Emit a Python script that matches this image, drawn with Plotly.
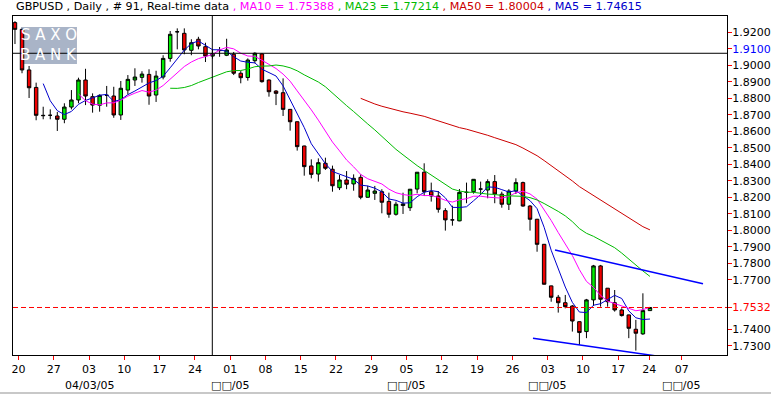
import plotly.graph_objects as go
import pandas as pd

# ---------------- data (GBPUSD daily, 91 bars) ----------------
OPEN = [1.9259, 1.9218, 1.8972, 1.8866, 1.8697, 1.8697, 1.8693, 1.8673, 1.8747, 1.8790,
        1.8911, 1.8810, 1.8758, 1.8818, 1.8814, 1.8699, 1.8850, 1.8911, 1.8927, 1.8945,
        1.8820, 1.8929, 1.9042, 1.9204, 1.9194, 1.9091, 1.9158, 1.9113, 1.9056, 1.9089,
        1.9061, 1.9067, 1.8952, 1.8926, 1.9028, 1.9069, 1.8911, 1.8844, 1.8834, 1.8733,
        1.8658, 1.8511, 1.8390, 1.8341, 1.8406, 1.8370, 1.8258, 1.8305, 1.8281, 1.8321,
        1.8200, 1.8224, 1.8234, 1.8175, 1.8097, 1.8150, 1.8137, 1.8250, 1.8352, 1.8234,
        1.8208, 1.8119, 1.8063, 1.8057, 1.8230, 1.8234, 1.8250, 1.8244, 1.8295, 1.8219,
        1.8158, 1.8238, 1.8289, 1.8147, 1.8067, 1.7915, 1.7663, 1.7594, 1.7561, 1.7541,
        1.7446, 1.7386, 1.7578, 1.7784, 1.7649, 1.7561, 1.7517, 1.7487, 1.7400, 1.7372,
        1.7513]
HIGH = [1.9268, 1.9222, 1.8996, 1.8895, 1.8749, 1.8733, 1.8717, 1.8770, 1.8850, 1.8925,
        1.8979, 1.8830, 1.8824, 1.8875, 1.8870, 1.8905, 1.8941, 1.8982, 1.8964, 1.8976,
        1.8967, 1.9061, 1.9208, 1.9224, 1.9224, 1.9158, 1.9173, 1.9137, 1.9095, 1.9111,
        1.9161, 1.9081, 1.8965, 1.9042, 1.9079, 1.9073, 1.8915, 1.8850, 1.8921, 1.8735,
        1.8660, 1.8513, 1.8430, 1.8436, 1.8440, 1.8392, 1.8335, 1.8359, 1.8339, 1.8339,
        1.8270, 1.8269, 1.8249, 1.8228, 1.8174, 1.8228, 1.8250, 1.8353, 1.8406, 1.8289,
        1.8238, 1.8134, 1.8149, 1.8250, 1.8289, 1.8310, 1.8295, 1.8309, 1.8335, 1.8234,
        1.8249, 1.8315, 1.8295, 1.8153, 1.8069, 1.7917, 1.7665, 1.7608, 1.7608, 1.7547,
        1.7448, 1.7584, 1.7790, 1.7790, 1.7650, 1.7638, 1.7527, 1.7489, 1.7457, 1.7618,
        1.7534]
LOW = [1.9129, 1.8952, 1.8802, 1.8667, 1.8673, 1.8673, 1.8602, 1.8649, 1.8733, 1.8770,
       1.8759, 1.8713, 1.8719, 1.8749, 1.8682, 1.8669, 1.8824, 1.8875, 1.8895, 1.8761,
       1.8778, 1.8915, 1.9022, 1.9097, 1.9067, 1.9061, 1.9097, 1.9020, 1.9040, 1.9052,
       1.9056, 1.8941, 1.8891, 1.8907, 1.9012, 1.8895, 1.8810, 1.8759, 1.8693, 1.8604,
       1.8483, 1.8331, 1.8315, 1.8295, 1.8366, 1.8234, 1.8244, 1.8249, 1.8240, 1.8188,
       1.8198, 1.8184, 1.8103, 1.8076, 1.8089, 1.8099, 1.8117, 1.8224, 1.8208, 1.8174,
       1.8107, 1.7998, 1.8028, 1.8055, 1.8164, 1.8222, 1.8214, 1.8194, 1.8164, 1.8137,
       1.8123, 1.8220, 1.8143, 1.7998, 1.7870, 1.7671, 1.7567, 1.7501, 1.7527, 1.7386,
       1.7305, 1.7346, 1.7541, 1.7537, 1.7537, 1.7507, 1.7477, 1.7346, 1.7271, 1.7366,
       1.7511]
CLOSE = [1.9218, 1.8972, 1.8864, 1.8697, 1.8695, 1.8697, 1.8673, 1.8747, 1.8790, 1.8911,
         1.8814, 1.8759, 1.8818, 1.8818, 1.8699, 1.8861, 1.8915, 1.8929, 1.8947, 1.8814,
         1.8935, 1.9042, 1.9188, 1.9203, 1.9093, 1.9137, 1.9117, 1.9056, 1.9070, 1.9090,
         1.9093, 1.8952, 1.8925, 1.9032, 1.9073, 1.8901, 1.8840, 1.8830, 1.8733, 1.8658,
         1.8507, 1.8386, 1.8339, 1.8410, 1.8376, 1.8270, 1.8305, 1.8279, 1.8315, 1.8200,
         1.8244, 1.8238, 1.8170, 1.8097, 1.8158, 1.8160, 1.8249, 1.8352, 1.8234, 1.8208,
         1.8127, 1.8063, 1.8063, 1.8230, 1.8230, 1.8309, 1.8250, 1.8295, 1.8220, 1.8158,
         1.8238, 1.8289, 1.8147, 1.8067, 1.7915, 1.7673, 1.7594, 1.7561, 1.7537, 1.7450,
         1.7380, 1.7578, 1.7784, 1.7582, 1.7567, 1.7517, 1.7483, 1.7406, 1.7376, 1.7513,
         1.7532]
BAR = list(range(len(CLOSE)))

MA_PERIODS = [5, 10, 23, 50]
MA_COLORS = {5: "#0000CC", 10: "#FF00FF", 23: "#00BB00", 50: "#CC0000"}
TITLE_MA = [("MA10", "1.75388", "#FF00FF"), ("MA23", "1.77214", "#00BB00"),
            ("MA50", "1.80004", "#CC0000"), ("MA5", "1.74615", "#0000CC")]

X_TICK_POS = [0.5, 5.5, 10.5, 15.5, 20.5, 25.5, 30.5, 35.5, 40.5, 45.5, 50.5,
              55.5, 60.5, 65.5, 70.5, 75.5, 80.5, 85.5, 89.9, 94.5]
X_TICK_DAY = ["20", "27", "03", "10", "17", "24", "01", "08", "15", "22", "29",
              "05", "12", "19", "26", "03", "10", "17", "24", "07"]
X_TICK_MONTH = {2: "04/03/05", 6: "□□/05", 11: "□□/05", 15: "□□/05", 19: "□□/05"}

Y_TICKS = [1.73, 1.74, 1.77, 1.78, 1.79, 1.80, 1.81, 1.82, 1.83, 1.84, 1.85,
           1.86, 1.87, 1.88, 1.89, 1.90, 1.91, 1.92]
LAST_PRICE = 1.7532
CROSS_PRICE = 1.9073
CROSS_BAR = 27.97
BLUE_TICK = 1.91

TREND_UP_X = [76.54, 97.52]
TREND_UP_Y = [1.7881, 1.7676]
TREND_LO_X = [73.42, 94.82]
TREND_LO_Y = [1.7346, 1.7214]

X_RANGE = [-0.28, 100.92]
Y_RANGE = [1.7244, 1.9299]

FONT = "DejaVu Sans"

# ---------------- figure ----------------
fig = go.Figure()

fig.add_trace(go.Candlestick(
    x=BAR, open=OPEN, high=HIGH, low=LOW, close=CLOSE,
    increasing=dict(fillcolor="#00EE00", line=dict(color="black", width=1)),
    decreasing=dict(fillcolor="#EE0000", line=dict(color="black", width=1)),
    whiskerwidth=0, showlegend=False, hoverinfo="skip",
))

close_s = pd.Series(CLOSE)
for p in MA_PERIODS:
    ma = close_s.rolling(p).mean()
    fig.add_trace(go.Scatter(x=BAR, y=ma, mode="lines",
                             line=dict(color=MA_COLORS[p], width=1),
                             showlegend=False, hoverinfo="skip"))

# tick labels
y_vals = Y_TICKS + [LAST_PRICE]
y_text = []
for v in Y_TICKS:
    t = f"{v:.4f}"
    if abs(v - BLUE_TICK) < 1e-9:
        t = f'<span style="color:#0000FF">{t}</span>'
    y_text.append(t)
y_text.append(f'<span style="color:#FF0000">{LAST_PRICE:.4f}</span>')

shapes = [
    # logo box
    dict(type="rect", xref="paper", yref="paper", x0=0.0112, x1=0.0896, y0=0.8584, y1=0.9676,
         fillcolor="#A9B4C7", line=dict(width=0), layer="below"),
    # last price dashed
    dict(type="line", xref="paper", yref="y", x0=0, x1=1, y0=LAST_PRICE, y1=LAST_PRICE,
         line=dict(color="#FF0000", width=1, dash="5px,3px")),
    # crosshair
    dict(type="line", xref="x", yref="paper", x0=CROSS_BAR, x1=CROSS_BAR, y0=0, y1=1,
         line=dict(color="black", width=1)),
    dict(type="line", xref="paper", yref="y", x0=0, x1=1, y0=CROSS_PRICE, y1=CROSS_PRICE,
         line=dict(color="black", width=1)),
    # trend lines
    dict(type="line", xref="x", yref="y", x0=TREND_UP_X[0], x1=TREND_UP_X[1],
         y0=TREND_UP_Y[0], y1=TREND_UP_Y[1], line=dict(color="#0000FF", width=1.5)),
    dict(type="line", xref="x", yref="y", x0=TREND_LO_X[0], x1=TREND_LO_X[1],
         y0=TREND_LO_Y[0], y1=TREND_LO_Y[1], line=dict(color="#0000FF", width=1.5)),
    # bottom gray rule of the window
    dict(type="line", xref="paper", yref="paper", x0=-0.02, x1=1.07, y0=-0.112, y1=-0.112,
         line=dict(color="#C8C8C8", width=2)),
]

title = "GBPUSD , Daily , # 91, Real-time data"
for name, val, col in TITLE_MA:
    title += f'<span style="color:{col}"> , {name} = {val}</span>'

annotations = [
    dict(xref="paper", yref="paper", x=0.0014, y=1.028, xanchor="left", yanchor="middle",
         text=title, showarrow=False, font=dict(family=FONT, size=11.2, color="black")),
    dict(xref="paper", yref="paper", x=0.0504, y=0.9425, xanchor="center", yanchor="middle",
         text="S A X O", showarrow=False, font=dict(family=FONT, size=15, color="white")),
    dict(xref="paper", yref="paper", x=0.0504, y=0.8835, xanchor="center", yanchor="middle",
         text="B A N K", showarrow=False, font=dict(family=FONT, size=15, color="white")),
]
for i, lab in X_TICK_MONTH.items():
    annotations.append(dict(xref="x", yref="paper", x=X_TICK_POS[i], y=-0.0885,
                            xanchor="center", yanchor="middle", text=lab, showarrow=False,
                            font=dict(family=FONT, size=11, color="black")))

fig.update_layout(
    width=771, height=395,
    margin=dict(l=13, r=44, t=16, b=40, autoexpand=False),
    paper_bgcolor="white", plot_bgcolor="white",
    showlegend=False,
    font=dict(family=FONT, size=11, color="black"),
    shapes=shapes, annotations=annotations,
    xaxis=dict(range=X_RANGE, rangeslider=dict(visible=False), showgrid=False, zeroline=False,
               automargin=False,
               showline=True, linecolor="black", linewidth=1, mirror=True,
               ticks="outside", ticklen=4, tickcolor="#FF0000", tickwidth=1,
               tickmode="array", tickvals=X_TICK_POS, ticktext=X_TICK_DAY,
               tickfont=dict(family=FONT, size=11, color="black")),
    yaxis=dict(range=Y_RANGE, side="right", showgrid=False, zeroline=False,
               automargin=False,
               showline=True, linecolor="black", linewidth=1, mirror=True,
               ticks="outside", ticklen=4, tickcolor="#FF0000", tickwidth=1,
               ticklabelstandoff=-2,
               tickmode="array", tickvals=y_vals, ticktext=y_text,
               tickfont=dict(family=FONT, size=11, color="black")),
)

fig.write_html("out.html", config={"displayModeBar": False},
               post_script="document.body.style.margin='0px';document.body.style.overflow='hidden';")
